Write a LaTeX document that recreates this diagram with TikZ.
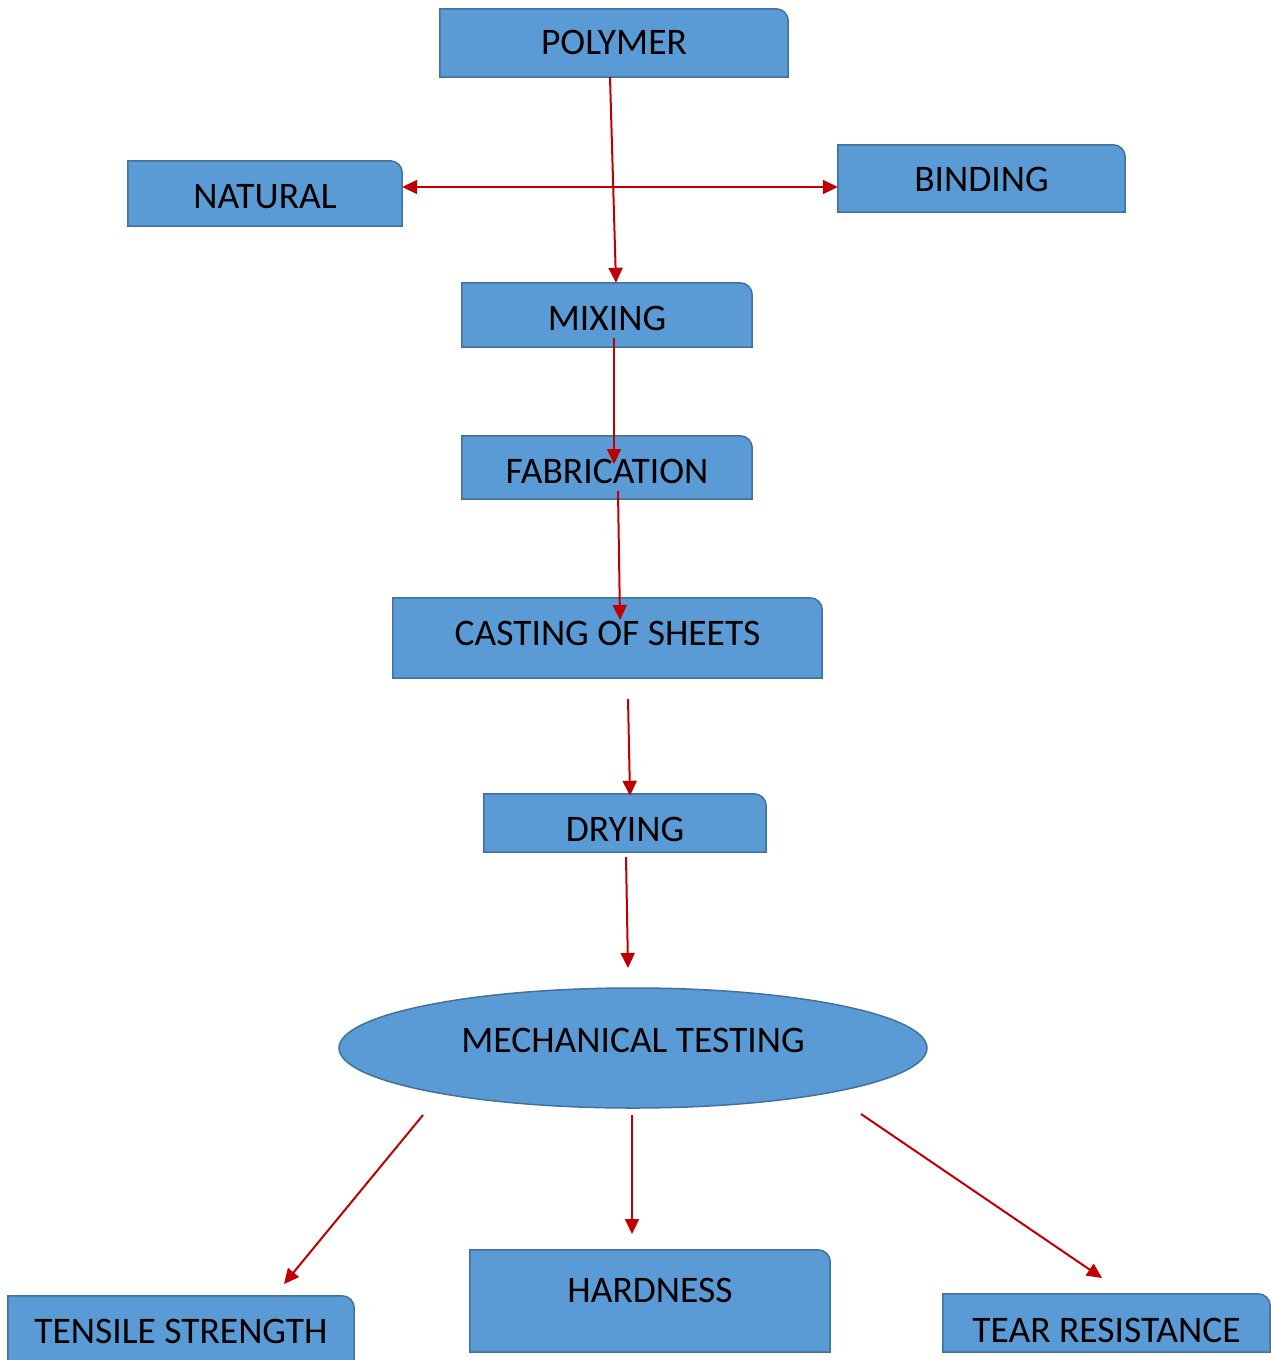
\documentclass[tikz,border=0pt]{standalone}
\usepackage{fontspec}
\setmainfont{Carlito}
\usetikzlibrary{arrows.meta,shapes.geometric,calc,backgrounds}
\definecolor{boxblue}{HTML}{5B9BD5}
\definecolor{boxedge}{HTML}{41719C}
\definecolor{arrowred}{HTML}{C00000}
\newcommand\cornerbox[1]{\filldraw[boxshape] (#1.south west) -- (#1.north west) -- ([xshift=-12pt]#1.north east) arc[start angle=90,end angle=0,radius=12pt] -- (#1.south east) -- cycle;}
\tikzset{
  box/.style={inner sep=0pt, text=black, font=\fontsize{37.5}{42}\selectfont, text height=24.2pt, text depth=0pt},
  boxshape/.style={fill=boxblue, draw=boxedge, line width=1.5pt},
  flow/.style={draw=arrowred, line width=2pt, -{Triangle[length=15pt,width=14pt]}},
  flowboth/.style={draw=arrowred, line width=2pt, {Triangle[length=15pt,width=14pt]}-{Triangle[length=15pt,width=14pt]}},
}
\begin{document}
\begin{tikzpicture}[x=1pt,y=-1pt]
\useasboundingbox (0,0) rectangle (1270,1360);
\clip (0,0) rectangle (1270,1360);
% nodes
\node[box, minimum width=348pt, minimum height=68pt, text height=23pt] (polymer) at (614,43) {POLYMER};
\node[box, minimum width=274pt, minimum height=65pt, text height=29.2pt] (natural) at (265,193.5) {NATURAL};
\node[box, minimum width=287pt, minimum height=67pt, text height=26.5pt] (binding) at (981.5,178.5) {BINDING};
\node[box, minimum width=290pt, minimum height=64pt, text height=30.2pt] (mixing) at (607,315) {MIXING};
\node[box, minimum width=290pt, minimum height=63pt, text height=31.2pt] (fabrication) at (607,467.5) {FABRICATION};
\node[box, minimum width=429pt, minimum height=80pt, text depth=10pt] (casting) at (607.5,638) {CASTING OF SHEETS};
\node[box, minimum width=282pt, minimum height=58pt, text height=36.2pt] (drying) at (625,823) {DRYING};
\node[box, ellipse, fill=boxblue, draw=boxedge, line width=1.5pt, minimum width=588pt, minimum height=120pt, text depth=16pt] (mech) at (633,1048) {MECHANICAL TESTING};
\node[box, minimum width=346pt, minimum height=74pt, text height=20.5pt] (tensile) at (181,1333) {TENSILE STRENGTH};
\node[box, minimum width=360pt, minimum height=102pt, text depth=22pt] (hardness) at (650,1301) {HARDNESS};
\node[box, minimum width=327pt, minimum height=58pt, text height=38.2pt] (tear) at (1106.5,1323) {TEAR RESISTANCE};
\begin{scope}[on background layer]
\cornerbox{polymer}\cornerbox{natural}\cornerbox{binding}\cornerbox{mixing}\cornerbox{fabrication}\cornerbox{casting}\cornerbox{drying}\cornerbox{tensile}\cornerbox{hardness}\cornerbox{tear}
\end{scope}
% free coordinates
\coordinate (hl) at (0,187);
\coordinate (c5s) at (628,699);
\coordinate (c6e) at (628,968);
\coordinate (c7s) at (423,1115);
\coordinate (c7e) at (284,1284);
\coordinate (c8s) at (632,1115);
\coordinate (c8e) at (632,1234);
\coordinate (c9s) at (861,1114);
\coordinate (c9e) at (1102,1278);
% connectors
\draw[flow] ($(polymer.south)+(-4,0)$) -- ($(mixing.north)+(9,0)$);
\draw[flowboth] (natural.east |- hl) -- (binding.west |- hl);
\draw[flow] ($(mixing.center)+(7,23)$) -- ($(fabrication.center)+(7,-3.5)$);
\draw[flow] ($(fabrication.center)+(11,23.5)$) -- ($(casting.center)+(12.5,-18)$);
\draw[flow] (c5s) -- ($(drying.north)+(5,2)$);
\draw[flow] ($(drying.south)+(1,5)$) -- (c6e);
\draw[flow] (c7s) -- (c7e);
\draw[flow] (c8s) -- (c8e);
\draw[flow] (c9s) -- (c9e);
\end{tikzpicture}
\end{document}
